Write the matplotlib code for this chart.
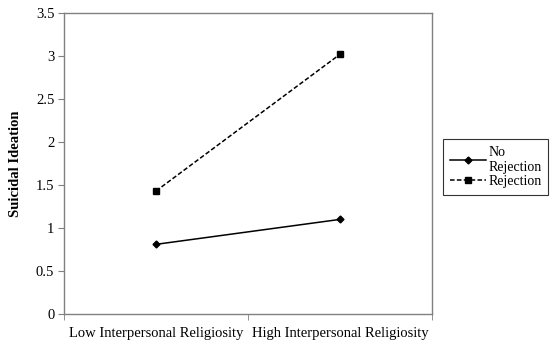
import matplotlib.pyplot as plt
import numpy as np

plt.rcParams['font.family'] = ['Liberation Serif', 'DejaVu Serif']

categories = ['Low Interpersonal Religiosity', 'High Interpersonal Religiosity']
no_rejection = [0.81, 1.10]
rejection = [1.43, 3.02]
y_ticks = [0, 0.5, 1, 1.5, 2, 2.5, 3, 3.5]
y_tick_labels = ['0', '0.5', '1', '1.5', '2', '2.5', '3', '3.5']

fig = plt.figure(figsize=(5.5, 3.42), dpi=100)
ax = fig.add_axes([64 / 550, 1 - 314 / 342, (432 - 64) / 550, (314 - 13) / 342])

x = np.arange(len(categories))
ax.plot(x, no_rejection, color='black', linestyle='-', linewidth=1.1,
        marker='D', markersize=3.5, label='No\nRejection')
ax.plot(x, rejection, color='black', linestyle=(0, (3, 1.5)), linewidth=1.1,
        marker='s', markersize=5, label='Rejection')

ax.set_xlim(-0.5, 1.5)
ax.set_ylim(0, 3.5)
ax.set_yticks(y_ticks)
ax.set_yticklabels(y_tick_labels, fontsize=10.5)
ax.set_xticks(x)
ax.set_xticklabels(categories, fontsize=10.5)
ax.set_xticks([-0.5, 0.5, 1.5], minor=True)
ax.tick_params(axis='x', which='major', length=0, pad=9)
ax.tick_params(axis='x', which='minor', length=4, color='#808080', direction='out')
ax.tick_params(axis='y', length=4, color='#808080', direction='out', pad=3)
for side in ax.spines.values():
    side.set_color('#808080')
    side.set_linewidth(1.0)

ax.set_ylabel('Suicidal Ideation', fontsize=10.5, fontweight='bold', labelpad=10)

leg = fig.legend(loc='upper left', bbox_to_anchor=(443 / 550, 1 - 139 / 342),
                 borderaxespad=0, fontsize=10, frameon=True, fancybox=False,
                 edgecolor='black', handlelength=2.6, handletextpad=0.15,
                 borderpad=0.5, labelspacing=0.05)
leg.get_frame().set_linewidth(0.8)

fig.savefig('out.png', dpi=100)
